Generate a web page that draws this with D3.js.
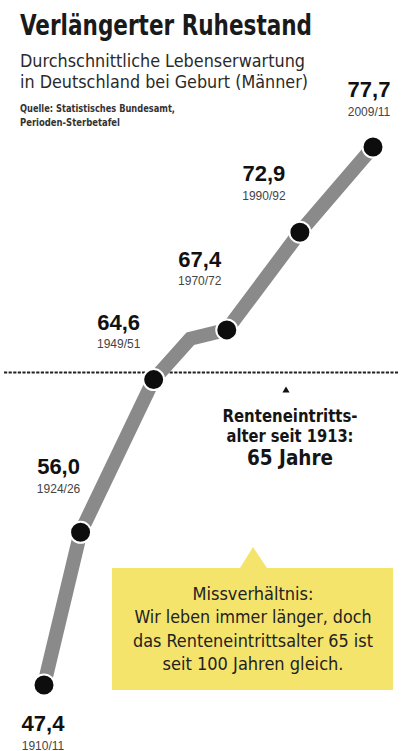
<!DOCTYPE html>
<html>
<head>
<meta charset="utf-8">
<script src="https://cdn.jsdelivr.net/npm/d3@7"></script>
<style>
  body { margin: 0; background: #fff; }
  svg { display: block; }
</style>
</head>
<body>
<svg width="406" height="751"></svg>
<script>
// slots on the x axis (the chart spaces the periods roughly by decade)
var periods = ["1910/11", "1924/26", "1932/34", "1949/51", "1960/62", "1970/72", "1980/82", "1990/92", "2000/02", "2009/11"];

// life expectancy at birth, men
var seriesPeriods = ["1910/11", "1924/26", "1949/51", "1960/62", "1970/72", "1990/92", "2009/11"];
var seriesValues = [47.4, 56.0, 64.6, 66.9, 67.4, 72.9, 77.7];
var seriesMarked = [true, true, true, false, true, true, true];

var retirementAge = 65;

var titleText = "Verlängerter Ruhestand";
var subtitleLines = ["Durchschnittliche Lebenserwartung", "in Deutschland bei Geburt (Männer)"];
var sourceLines = ["Quelle: Statistisches Bundesamt,", "Perioden-Sterbetafel"];
var retireLines = ["Renteneintritts-", "alter seit 1913:", "65 Jahre"];
var boxLines = ["Missverhältnis:", "Wir leben immer länger, doch", "das Renteneintrittsalter 65 ist", "seit 100 Jahren gleich."];

// where the value label sits relative to its point (dx, dy of the value baseline)
var labelOffsets = [[-1, 46], [-22, -58], [-35, -50], null, [-27, -63], [-36, -51], [-4, -50]];

var narrow = "'Liberation Sans Narrow', 'DejaVu Sans Condensed', 'Liberation Sans', sans-serif";
var wide = "'Liberation Sans', Arial, sans-serif";

var de = d3.formatLocale({decimal: ",", thousands: ".", grouping: [3], currency: ["", " €"]});
var fmt = de.format(".1f");

var svg = d3.select("svg");

var x = d3.scalePoint().domain(periods).range([44, 373]);
var y = d3.scaleLinear().domain(d3.extent(seriesValues)).range([685, 147]);

var data = seriesPeriods.map(function (p, i) {
    return {period: p, value: seriesValues[i], marked: seriesMarked[i], off: labelOffsets[i]};
});

// fit a text element to a width
function fit(sel, w) {
    sel.attr("textLength", w).attr("lengthAdjust", "spacingAndGlyphs");
}

// header
svg.append("text")
    .attr("x", 20).attr("y", 35)
    .style("font-family", narrow).style("font-weight", "bold")
    .style("font-size", "29px").style("fill", "#1a1a1a")
    .text(titleText)
    .call(fit, 292);

var subW = [285, 288];
subtitleLines.forEach(function (t, i) {
    svg.append("text")
        .attr("x", 20).attr("y", 67 + i * 21)
        .style("font-family", narrow).style("font-size", "18.5px").style("fill", "#2a2a2a")
        .text(t)
        .call(fit, subW[i]);
});

var srcW = [155, 100];
sourceLines.forEach(function (t, i) {
    svg.append("text")
        .attr("x", 20).attr("y", 112 + i * 14)
        .style("font-family", narrow).style("font-weight", "bold")
        .style("font-size", "10.5px").style("fill", "#333")
        .text(t)
        .call(fit, srcW[i]);
});

// retirement age reference line
svg.append("line")
    .attr("x1", 4).attr("x2", 398)
    .attr("y1", y(retirementAge)).attr("y2", y(retirementAge))
    .style("stroke", "#222").style("stroke-width", 2.2)
    .style("stroke-dasharray", "3.2,1.4");

// the life expectancy line
var line = d3.line()
    .x(function (d) { return x(d.period); })
    .y(function (d) { return y(d.value); });

svg.append("path")
    .datum(data)
    .attr("d", line)
    .style("fill", "none")
    .style("stroke", "#8a8a8a")
    .style("stroke-width", 14)
    .style("stroke-linejoin", "miter");

var marked = data.filter(function (d) { return d.marked; });

svg.selectAll("circle.pt")
    .data(marked)
    .enter().append("circle")
    .attr("class", "pt")
    .attr("cx", function (d) { return x(d.period); })
    .attr("cy", function (d) { return y(d.value); })
    .attr("r", 10.5)
    .style("fill", "#0d0d0d")
    .style("stroke", "#fff")
    .style("stroke-width", 2);

// value + period labels
var lab = svg.selectAll("g.lab")
    .data(marked)
    .enter().append("g")
    .attr("class", "lab")
    .attr("transform", function (d) {
        return "translate(" + (x(d.period) + d.off[0]) + "," + (y(d.value) + d.off[1]) + ")";
    });

lab.append("text")
    .attr("text-anchor", "middle")
    .style("font-family", wide).style("font-weight", "bold")
    .style("font-size", "22px").style("fill", "#111")
    .text(function (d) { return fmt(d.value); });

lab.append("text")
    .attr("y", 18.5)
    .attr("text-anchor", "middle")
    .style("font-family", wide).style("font-size", "12px").style("fill", "#444")
    .text(function (d) { return d.period; });

// retirement note under the dotted line
var rx = 290;
svg.append("path")
    .attr("d", d3.symbol().type(d3.symbolTriangle).size(22)())
    .attr("transform", "translate(" + (rx - 4) + "," + (y(retirementAge) + 18) + ")")
    .style("fill", "#111");

var retY = [422, 442, 465];
var retSize = [18.5, 18.5, 22];
var retW = [135, 127, 86];
retireLines.forEach(function (t, i) {
    svg.append("text")
        .attr("x", rx).attr("y", retY[i])
        .attr("text-anchor", "middle")
        .style("font-family", narrow).style("font-weight", "bold")
        .style("font-size", retSize[i] + "px").style("fill", "#151515")
        .text(t)
        .call(fit, retW[i]);
});

// yellow call-out box
var bx0 = 112, bx1 = 393, by0 = 568, by1 = 690, tipX = 253;
svg.append("path")
    .attr("d", "M" + bx0 + "," + by0 + "H" + (tipX - 13) + "L" + tipX + "," + (by0 - 21) +
        "L" + (tipX + 14) + "," + by0 + "H" + bx1 + "V" + by1 + "H" + bx0 + "Z")
    .style("fill", "#f4e46c");

var boxW = [121, 237, 240, 181];
boxLines.forEach(function (t, i) {
    svg.append("text")
        .attr("x", tipX).attr("y", 600 + i * 23.3)
        .attr("text-anchor", "middle")
        .style("font-family", narrow).style("font-size", "17px").style("fill", "#222")
        .text(t)
        .call(fit, boxW[i]);
});
</script>
</body>
</html>
